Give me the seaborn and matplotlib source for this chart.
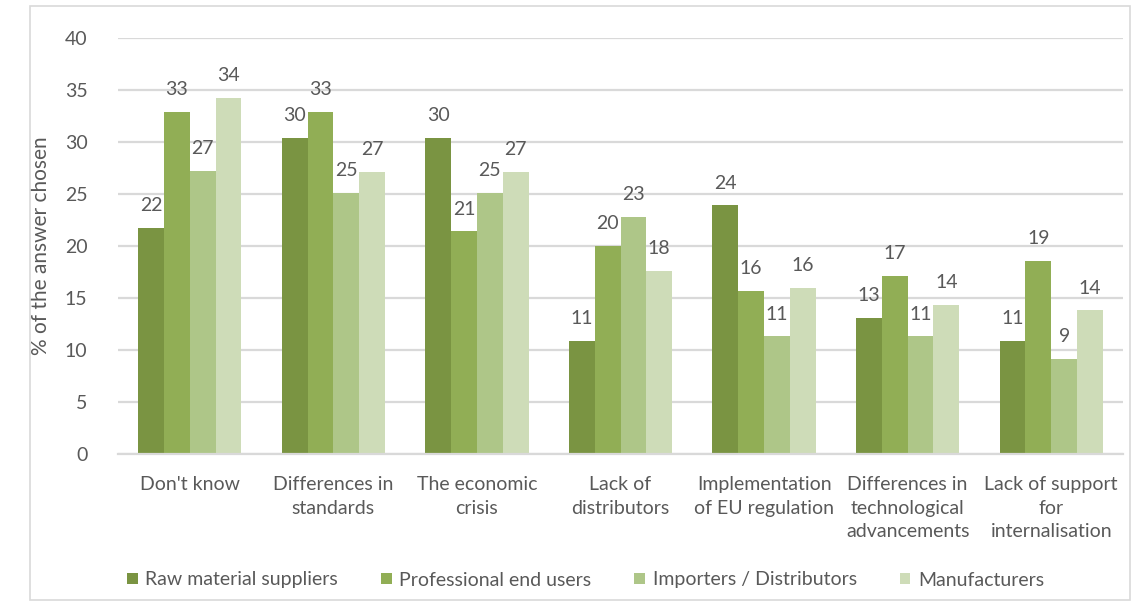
import matplotlib
matplotlib.use("Agg")
import matplotlib.pyplot as plt
from matplotlib.patches import Rectangle
import seaborn as sns
import pandas as pd

categories = [
    "Don't know",
    "Differences in\nstandards",
    "The economic\ncrisis",
    "Lack of\ndistributors",
    "Implementation\nof EU regulation",
    "Differences in\ntechnological\nadvancements",
    "Lack of support\nfor\ninternalisation",
]
series_names = [
    "Raw material suppliers",
    "Professional end users",
    "Importers / Distributors",
    "Manufacturers",
]
raw_material = [21.7, 30.4, 30.4, 10.9, 23.9, 13.1, 10.9]
professional = [32.9, 32.9, 21.4, 20.0, 15.7, 17.1, 18.6]
importers = [27.2, 25.1, 25.1, 22.8, 11.3, 11.3, 9.1]
manufacturers = [34.2, 27.1, 27.1, 17.6, 16.0, 14.3, 13.8]
y_ticks = [0, 5, 10, 15, 20, 25, 30, 35, 40]

colors = ["#7A9442", "#91AE55", "#AEC688", "#CEDCB8"]
text_color = "#595959"
fs = 14

rows = []
for name, vals in zip(series_names, [raw_material, professional, importers, manufacturers]):
    for cat, v in zip(categories, vals):
        rows.append({"category": cat, "series": name, "value": v})
df = pd.DataFrame(rows)

sns.set_style("white")
plt.rcParams["font.family"] = ["Lato", "DejaVu Sans"]

fig = plt.figure(figsize=(11.33, 6.06), dpi=100)
ax = fig.add_axes([118 / 1133, 1 - 454 / 606, (1123 - 118) / 1133, (454 - 38) / 606])

sns.barplot(
    data=df, x="category", y="value", hue="series",
    hue_order=series_names, order=categories,
    palette=colors, width=0.72, saturation=1, ax=ax, errorbar=None,
)

for container in ax.containers:
    ax.bar_label(container, fmt="%.0f", padding=10, fontsize=fs, color=text_color)
for patch in ax.patches:
    patch.set_edgecolor("none")

ax.set_ylim(0, 40)
ax.set_yticks(y_ticks)
ax.set_xlim(-0.5, len(categories) - 0.5)
ax.yaxis.grid(True, color="#D9D9D9", linewidth=1.6)
ax.set_axisbelow(True)
for side in ["top", "right", "left"]:
    ax.spines[side].set_visible(False)
ax.spines["bottom"].set_color("#D9D9D9")
ax.spines["bottom"].set_linewidth(1.6)
ax.tick_params(axis="both", length=0, labelsize=fs, colors=text_color)
ax.tick_params(axis="x", pad=16)
ax.tick_params(axis="y", pad=22)
for lbl in ax.get_xticklabels():
    lbl.set_linespacing(1.45)
ax.set_xlabel("")
ax.set_ylabel("% of the answer chosen", fontsize=fs + 1, color=text_color, labelpad=10)

handles, labels = ax.get_legend_handles_labels()
ax.legend(
    handles, labels, loc="center", bbox_to_anchor=(0.5 + (585 - 620) / 1005, (454 - 580) / 416),
    ncol=4, frameon=False, fontsize=fs, labelcolor=text_color,
    handlelength=0.55, handleheight=0.55, handletextpad=0.4, columnspacing=2.2,
)

fig.patches.append(Rectangle((30 / 1133, 6 / 606), 1100 / 1133, 594 / 606,
                             transform=fig.transFigure, fill=False,
                             edgecolor="#D9D9D9", linewidth=1.2))

fig.savefig("out.png", dpi=100)
